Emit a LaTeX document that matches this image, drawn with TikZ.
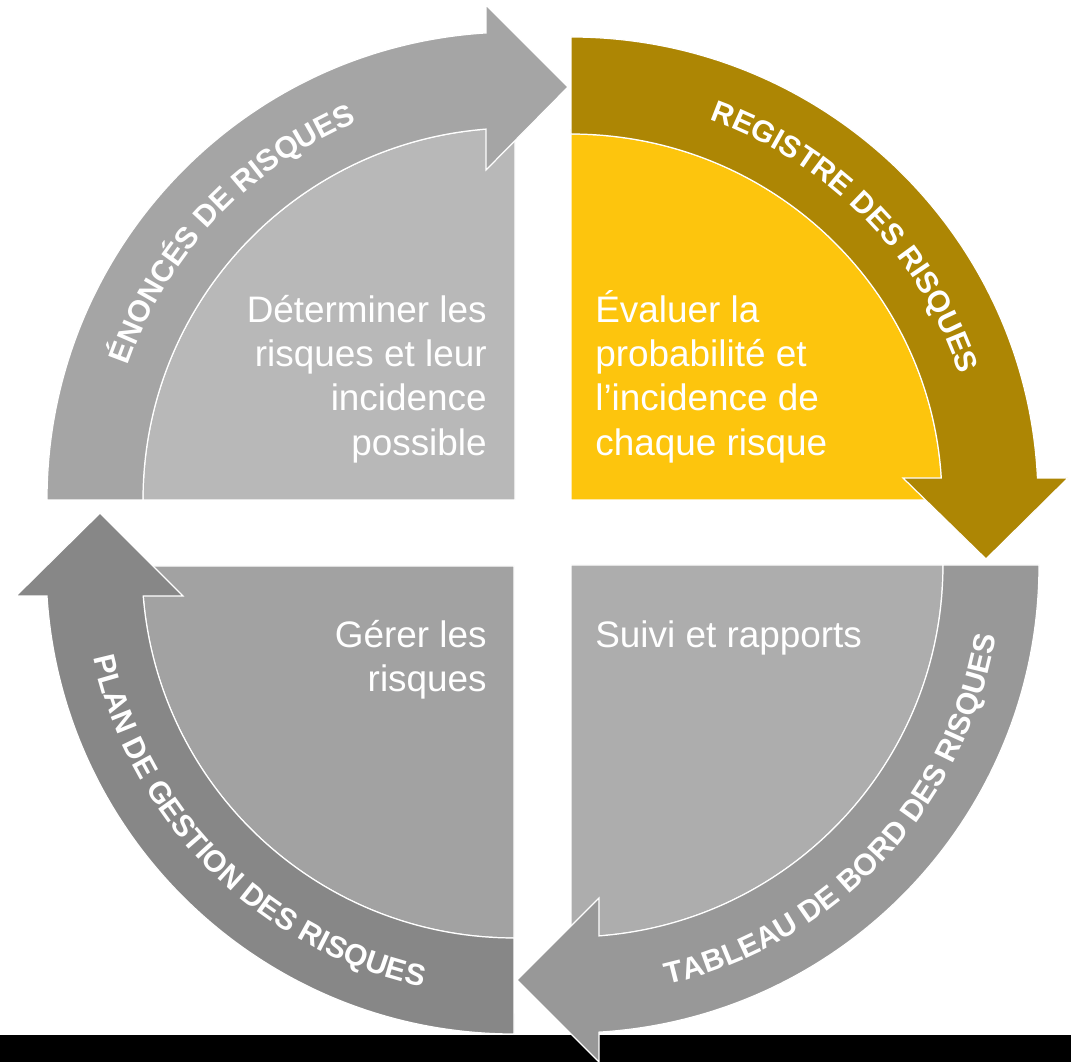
\documentclass[tikz,border=0pt]{standalone}
\usepackage{fontspec}
\setmainfont{Liberation Sans}
\usetikzlibrary{decorations.text}

\definecolor{tlband}{HTML}{A5A5A5}
\definecolor{tlfill}{HTML}{B8B8B8}
\definecolor{trband}{HTML}{AD8604}
\definecolor{trfill}{HTML}{FDC50D}
\definecolor{brband}{HTML}{989898}
\definecolor{brfill}{HTML}{ADADAD}
\definecolor{blband}{HTML}{878787}
\definecolor{blfill}{HTML}{A2A2A2}
\newcommand\bandfont{\bfseries\fontsize{17.2}{20}\selectfont}

\begin{document}
\begin{tikzpicture}[x=0.02cm, y=0.02cm,
  piece/.style={draw=white, line width=0.7pt},
  body/.style={text=white, inner sep=0, font=\fontsize{21}{25.2}\selectfont},
  bandtext/.style={decorate, decoration={text along path, text align=center,
    text color=white, text={|\bandfont|#1}}}]

% Frame
\useasboundingbox (0,0) rectangle (1071,1062);
\fill[black] (0,0) rectangle (1071,27);

% Quarters
\draw[piece, fill=tlfill] (515,562) -- (143,562) arc[start angle=180, end angle=90, radius=372] -- cycle;
\draw[piece, fill=trfill] (571,562) -- (942,562) arc[start angle=0, end angle=90, x radius=371, y radius=366] -- cycle;
\draw[piece, fill=brfill] (571,497) -- (571,125) arc[start angle=270, end angle=360, radius=372] -- cycle;
\draw[piece, fill=blfill] (514,496) -- (514,124) arc[start angle=270, end angle=180, radius=372] -- cycle;

% Arrows
\draw[piece, fill=tlband] (47,562) arc[start angle=180, end angle=93.55, radius=468]
  -- (486,1057) -- (568,975) -- (486,892) -- (486,932.9)
  arc[start angle=94.47, end angle=180, radius=372] -- cycle;
\draw[piece, fill=trband] (571,1025) arc[start angle=90, end angle=2.72, x radius=467, y radius=463]
  -- (1068,584) -- (986,503) -- (903,584) -- (941.3,584)
  arc[start angle=3.45, end angle=90, x radius=371, y radius=366] -- cycle;
\draw[piece, fill=brband] (1039,497) arc[start angle=0, end angle=-86.57, radius=468]
  -- (599,0) -- (517,82) -- (599,164) -- (599,126.1)
  arc[start angle=-85.68, end angle=0, radius=372] -- cycle;
\draw[piece, fill=blband] (514,28) arc[start angle=270, end angle=183.67, radius=468]
  -- (16,466) -- (100,549) -- (183,466) -- (143.2,466)
  arc[start angle=184.63, end angle=270, radius=372] -- cycle;

% Arrow labels
\path[bandtext={ÉNONCÉS DE RISQUES}] (105.5,562) arc[start angle=180, end angle=93.55, radius=409.5];
\path[bandtext={REGISTRE DES RISQUES}] (585.3,966) arc[start angle=88, end angle=0, x radius=408.5, y radius=404];
\path[bandtext={TABLEAU DE BORD DES RISQUES}] (597.3,67.3) arc[start angle=-86.5, end angle=0, radius=430.5];
\path[bandtext={PLAN DE GESTION DES RISQUES}] (83.6,488.5) arc[start angle=181, end angle=269, radius=430.5];

% Steps
\node[body, anchor=north east, align=right] (identify) at (487,777)
  {\rule{0pt}{21pt}Déterminer les\\risques et leur\\incidence\\possible};
\node[body, anchor=north west, align=left] (assess) at (595,777)
  {\rule{0pt}{21pt}Évaluer la\\probabilité et\\l’incidence de\\chaque risque};
\node[body, anchor=north east, align=right] (manage) at (487,452)
  {\rule{0pt}{21pt}Gérer les\\risques};
\node[body, anchor=north west, align=left] (monitor) at (595,452)
  {\rule{0pt}{21pt}Suivi et rapports};

\end{tikzpicture}
\end{document}
